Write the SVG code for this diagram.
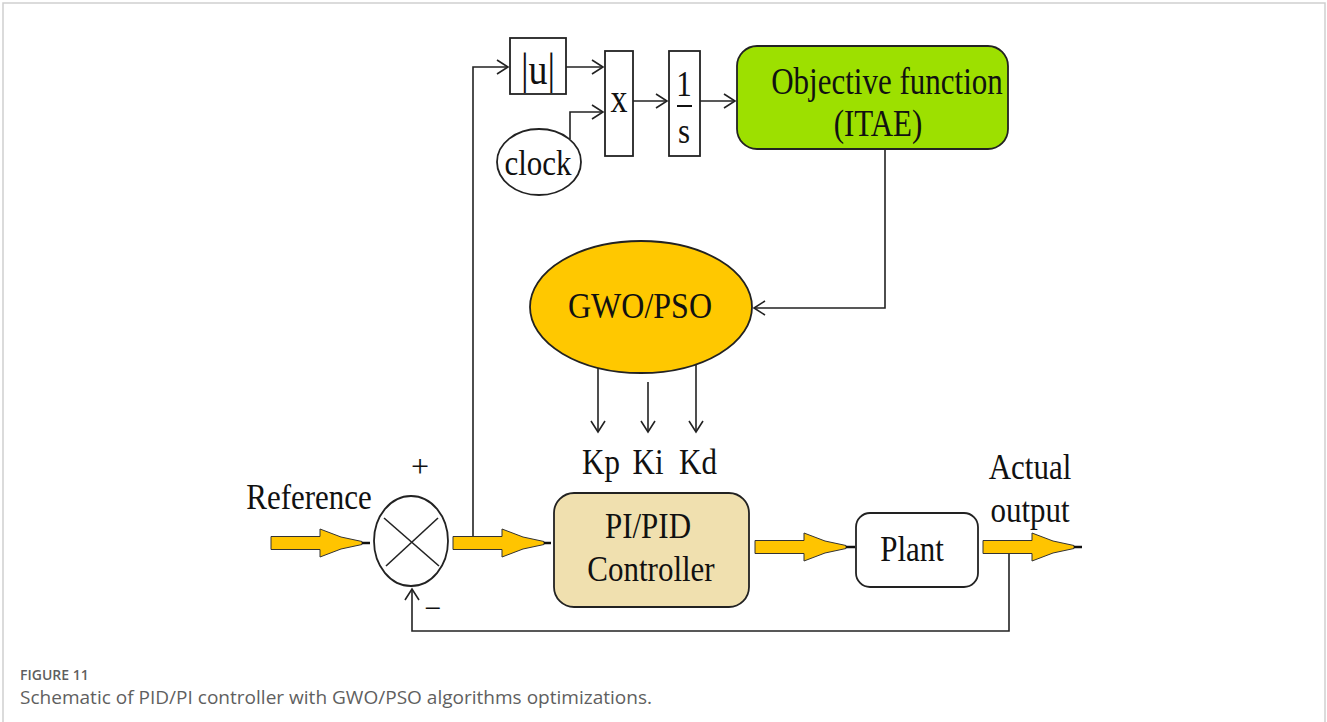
<svg xmlns="http://www.w3.org/2000/svg" width="1327" height="722" viewBox="0 0 1327 722">
<defs>
<style>
.t{font-family:"Liberation Serif","Times New Roman",serif;font-size:31px;fill:#111;text-anchor:middle}
.ln{fill:none;stroke:#222;stroke-width:1.6}
.bx{stroke:#222;stroke-width:1.8}
.fat{fill:#FFC400;stroke:#333;stroke-width:1}
.tip{stroke:#111;stroke-width:2.5}
.cap1{font-family:"Open Sans","Liberation Sans",sans-serif;font-size:14px;font-weight:600;fill:#5f5f5f}
.cap2{font-family:"Open Sans","Liberation Sans",sans-serif;font-size:18px;fill:#5f5f5f}
</style>
<marker id="ah" markerUnits="userSpaceOnUse" markerWidth="14" markerHeight="16" refX="12" refY="8" orient="auto">
<path d="M1,1 L12,8 L1,15" fill="none" stroke="#222" stroke-width="1.6"/>
</marker>
<polygon id="fatArrow" points="0,-6.5 49,-6.5 49,-14 70,-6 91,-1.5 91,1.5 70,6 49,14 49,6.5 0,6.5"/>
</defs>
<rect width="1327" height="722" fill="#fff"/>
<path d="M3,722 V3 H1325 V722" fill="none" stroke="#cfcfcf" stroke-width="1.5"/>

<g id="connectors">
<path class="ln" d="M473,543 V67 H508" marker-end="url(#ah)"/>
<path class="ln" d="M566,67 H603" marker-end="url(#ah)"/>
<path class="ln" d="M570,139 V112 H603" marker-end="url(#ah)"/>
<path class="ln" d="M633,101 H667" marker-end="url(#ah)"/>
<path class="ln" d="M700,101 H735" marker-end="url(#ah)"/>
<path class="ln" d="M885,149 V308 H754" marker-end="url(#ah)"/>
<path class="ln" d="M598,368 V432" marker-end="url(#ah)"/>
<path class="ln" d="M648,382 V432" marker-end="url(#ah)"/>
<path class="ln" d="M696,364 V432" marker-end="url(#ah)"/>
<path class="ln" d="M1009,547 V631 H412 V589" marker-end="url(#ah)"/>
<g id="fat1"><use href="#fatArrow" class="fat" transform="translate(271,543)"/><line class="tip" x1="362" y1="543" x2="370" y2="543"/></g>
<g id="fat2"><use href="#fatArrow" class="fat" transform="translate(453,543)"/><line class="tip" x1="544" y1="543" x2="551" y2="543"/></g>
<g id="fat3"><use href="#fatArrow" class="fat" transform="translate(755,547)"/><line class="tip" x1="846" y1="547" x2="855" y2="547"/></g>
<g id="fat4"><use href="#fatArrow" class="fat" transform="translate(983,547)"/><line class="tip" x1="1074" y1="547" x2="1082" y2="547"/></g>
</g>

<g id="abs">
<rect class="bx" x="510" y="38" width="56" height="56" fill="#fff"/>
<text class="t" transform="translate(538,84) scale(1,1.15)" style="font-size:38px">|u|</text>
</g>
<g id="mult">
<rect class="bx" x="605" y="51" width="28" height="105" fill="#fff"/>
<text class="t" transform="translate(619,112) scale(1,1.15)" style="font-size:34px">x</text>
</g>
<g id="integ">
<rect class="bx" x="669" y="51" width="31" height="105" fill="#fff"/>
<text class="t" transform="translate(684,96) scale(1,1.15)">1</text>
<line x1="677" y1="106" x2="692" y2="106" stroke="#111" stroke-width="2"/>
<text class="t" transform="translate(684,143) scale(1,1.15)">s</text>
</g>
<g id="clock">
<ellipse class="bx" cx="539" cy="162" rx="42" ry="33" fill="#fff"/>
<text class="t" transform="translate(538,175) scale(1,1.15)">clock</text>
</g>
<g id="objective">
<rect class="bx" x="737" y="46" width="271" height="103" rx="20" fill="#9DE000"/>
<text class="t" transform="translate(887,94) scale(1,1.2)">Objective function</text>
<text class="t" transform="translate(878,136) scale(1,1.2)">(ITAE)</text>
</g>
<g id="gwo">
<ellipse class="bx" cx="641" cy="307" rx="111" ry="66" fill="#FFC800"/>
<text class="t" transform="translate(640,318) scale(1,1.15)" style="font-size:32px">GWO/PSO</text>
</g>
<g id="gains">
<text class="t" transform="translate(601,474) scale(1,1.15)">Kp</text>
<text class="t" transform="translate(648,474) scale(1,1.15)">Ki</text>
<text class="t" transform="translate(698,474) scale(1,1.15)">Kd</text>
</g>
<g id="controller">
<rect class="bx" x="554" y="493" width="195" height="114" rx="20" fill="#F0E0AF"/>
<text class="t" transform="translate(648,538) scale(1,1.15)">PI/PID</text>
<text class="t" transform="translate(651,581) scale(1,1.15)">Controller</text>
</g>
<g id="plant">
<rect class="bx" x="856" y="513" width="122" height="74" rx="14" fill="#fff"/>
<text class="t" transform="translate(912,561) scale(1,1.15)">Plant</text>
</g>
<g id="sum">
<ellipse class="bx" cx="411" cy="541" rx="37" ry="45" fill="#fff"/>
<line class="ln" x1="384" y1="518" x2="439" y2="566"/>
<line class="ln" x1="438" y1="518" x2="386" y2="566"/>
<text class="t" transform="translate(420,477)" style="font-size:32px">+</text>
<text class="t" transform="translate(433,618)" style="font-size:30px">−</text>
</g>
<g id="labels">
<text class="t" transform="translate(309,509) scale(1,1.15)">Reference</text>
<text class="t" transform="translate(1030,479) scale(1,1.15)">Actual</text>
<text class="t" transform="translate(1030,522) scale(1,1.15)">output</text>
</g>
<g id="caption">
<text class="cap1" x="20" y="680">FIGURE 11</text>
<text class="cap2" x="20" y="704" textLength="632" lengthAdjust="spacingAndGlyphs">Schematic of PID/PI controller with GWO/PSO algorithms optimizations.</text>
</g>
</svg>
